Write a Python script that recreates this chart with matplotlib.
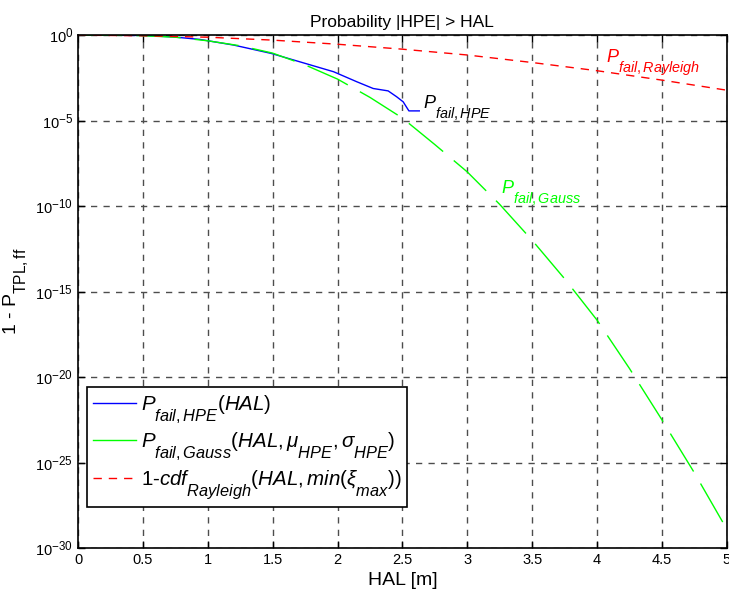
import numpy as np
import matplotlib
matplotlib.use("Agg")
from matplotlib import pyplot as plt
from matplotlib.lines import Line2D
import matplotlib._mathtext as mt

plt.rcParams["font.family"] = "Liberation Sans"
plt.rcParams["mathtext.fontset"] = "custom"
plt.rcParams["mathtext.rm"] = "Liberation Sans"
plt.rcParams["mathtext.it"] = "Liberation Sans:italic"
plt.rcParams["mathtext.bf"] = "Liberation Sans:bold"
plt.rcParams["axes.unicode_minus"] = False

# MATLAB-like bigger, lower subscripts
mt.SHRINK_FACTOR = 0.8
mt.FontConstantsBase.sub1 = 1.0
mt.FontConstantsBase.subdrop = 1.0

hal_hpe = [0, 0.25, 0.5, 0.73, 0.94, 1.2, 1.49, 1.71, 1.97, 2.15, 2.275,
           2.39, 2.455, 2.506, 2.55, 2.63]
log_hpe = [0, -0.005, -0.02, -0.1, -0.25, -0.58, -1.07, -1.56, -2.14, -2.73,
           -3.12, -3.26, -3.6, -3.9, -4.43, -4.43]

# Gaussian model
hal_gauss = [0, 0.25, 0.5, 0.75, 1.0, 1.25, 1.5, 1.75, 2.0, 2.25, 2.5, 2.75,
             3.0, 3.25, 3.5, 3.75, 4.0, 4.25, 4.5, 4.75, 5.0]
log_gauss = [0, -0.003, -0.03, -0.12, -0.33, -0.62, -1.05, -1.74, -2.57,
             -3.64, -4.85, -6.4, -8.0, -9.9, -12.0, -14.25, -16.67, -19.5,
             -22.5, -25.6, -28.9]

# Rayleigh bound
hal_ray = [0, 0.5, 1.0, 1.5, 2.0, 2.5, 3.0, 3.5, 4.0, 4.5, 5.0]
log_ray = [0, -0.035, -0.12, -0.29, -0.53, -0.82, -1.16, -1.6, -2.08, -2.63,
           -3.22]

fig = plt.figure(figsize=(7.29, 5.96), dpi=100)
ax = fig.add_axes([0.107, 0.0805, 0.890, 0.8605])

ax.plot(hal_hpe, 10.0 ** np.array(log_hpe), color="blue", lw=1)
ax.plot(hal_gauss, 10.0 ** np.array(log_gauss), color="#00ff00", lw=1,
        dashes=(32, 10))
ax.plot(hal_ray, 10.0 ** np.array(log_ray), color="red", lw=1,
        dashes=(6, 5))

ax.set_yscale("log")
ax.set_xlim(0, 5)
ax.set_ylim(1e-30, 1e0)
ax.set_xticks(np.arange(0, 5.01, 0.5))
ax.set_xticklabels(["0", "0.5", "1", "1.5", "2", "2.5", "3", "3.5", "4",
                    "4.5", "5"])
ax.set_yticks([10.0 ** e for e in range(-30, 1, 5)])
ax.yaxis.set_minor_locator(matplotlib.ticker.NullLocator())
ax.tick_params(direction="in", top=True, right=True, labelsize=10.5,
               length=5, width=1)

ax.grid(True, color="0.3", linestyle=(0, (4.5, 4.5)), linewidth=1)
for s in ax.spines.values():
    s.set_linewidth(1.2)

ax.set_title("Probability |HPE| > HAL", fontsize=12.5)
ax.set_xlabel("HAL [m]", fontsize=14)
ax.set_ylabel(r"1 - P$_{\mathregular{TPL,ff}}$", fontsize=14)

ax.text(2.66, 10 ** -3.39, r"$P_{fail,HPE}$", fontsize=13, va="top")
ax.text(4.07, 10 ** -0.70, r"$P_{fail,Rayleigh}$", fontsize=13,
        color="red", va="top")
ax.text(3.26, 10 ** -8.38, r"$P_{fail,Gauss}$", fontsize=13,
        color="#00ff00", va="top")

handles = [
    Line2D([], [], color="blue", lw=1),
    Line2D([], [], color="#00ff00", lw=1),
    Line2D([], [], color="red", lw=1, dashes=(6, 5)),
]
labels = [
    r"$P_{fail,HPE}(HAL)$",
    r"$P_{fail,Gauss}(HAL,\mu_{HPE},\sigma_{HPE})$",
    r"1-$cdf_{Rayleigh}(HAL,min(\xi_{max}))$",
]
leg = ax.legend(handles, labels, loc="lower left",
                bbox_to_anchor=(0.014, 0.08), borderaxespad=0,
                fontsize=14.8, fancybox=False, framealpha=1,
                edgecolor="black", handlelength=2.1, handletextpad=0.2,
                labelspacing=0.28, borderpad=0.3)
leg.get_frame().set_linewidth(1.2)

fig.savefig("out.png", dpi=100)
